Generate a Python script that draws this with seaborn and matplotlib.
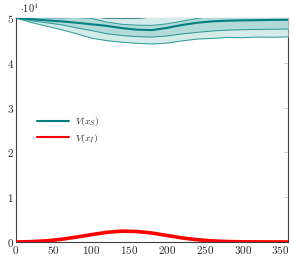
import numpy as np
import pandas as pd
import matplotlib
matplotlib.use("Agg")
import matplotlib.pyplot as plt
import seaborn as sns

# values are in units of 10^4
x = [0, 20, 40, 60, 80, 100, 120, 140, 160, 180, 200, 220, 240, 260, 280, 300, 320, 340, 360]

vs_mean = [5.00, 4.975, 4.948, 4.925, 4.895, 4.86, 4.825, 4.775, 4.74, 4.73, 4.78, 4.845, 4.895, 4.925,
           4.94, 4.947, 4.952, 4.957, 4.96]
vs_inner_lo = [5.00, 4.94, 4.895, 4.85, 4.78, 4.72, 4.65, 4.61, 4.585, 4.575, 4.60, 4.645, 4.68, 4.71,
               4.73, 4.74, 4.745, 4.75, 4.755]
vs_inner_hi = [5.00, 5.01, 5.00, 5.00, 5.01, 4.99, 4.91, 4.86, 4.84, 4.835, 4.87, 4.93, 4.99, 5.04,
               5.08, 5.12, 5.14, 5.15, 5.16]
vs_outer_lo = [5.00, 4.90, 4.82, 4.74, 4.65, 4.55, 4.495, 4.46, 4.435, 4.42, 4.44, 4.49, 4.53, 4.545,
               4.565, 4.56, 4.575, 4.57, 4.58]
vs_outer_hi = [5.00, 5.05, 5.08, 5.10, 5.08, 5.03, 4.997, 4.995, 4.996, 5.02, 5.08, 5.14, 5.20, 5.25,
               5.28, 5.30, 5.32, 5.33, 5.34]

vi_mean = [0.0, 0.008, 0.025, 0.06, 0.11, 0.165, 0.215, 0.243, 0.235, 0.20, 0.145, 0.09, 0.05, 0.024,
           0.01, 0.004, 0.002, 0.001, 0.0]

teal = "#008080"
df = pd.DataFrame({"x": x, "V(x_S)": vs_mean, "V(x_I)": vi_mean})

sns.set_theme(style="white")
plt.rcParams["font.family"] = ["cmr10", "DejaVu Serif"]
plt.rcParams["mathtext.fontset"] = "cm"
plt.rcParams["axes.formatter.use_mathtext"] = True

fig = plt.figure(figsize=(2.94, 2.61), dpi=100)
ax = fig.add_axes([0.0544, 0.0728, 0.9252, 0.8582])

# bands drawn over the axis box like in pgfplots
ax.fill_between(x, vs_outer_lo, vs_outer_hi, color="#d4ebea", lw=0, zorder=3)
ax.fill_between(x, vs_inner_lo, vs_inner_hi, color="#b2dad8", lw=0, zorder=3.1)
for b in [vs_outer_lo, vs_outer_hi, vs_inner_lo, vs_inner_hi]:
    ax.plot(x, b, color="#2a9a96", lw=0.7, zorder=3.2)

sns.lineplot(data=df, x="x", y="V(x_S)", color=teal, lw=1.5, ax=ax, zorder=4, label=r"$V(x_S)$")
sns.lineplot(data=df, x="x", y="V(x_I)", color="#ff0000", lw=2.6, ax=ax, zorder=4, label=r"$V(x_I)$")

ax.set_xlim(0, 360)
ax.set_ylim(0, 5)
ax.set_xticks([0, 50, 100, 150, 200, 250, 300, 350])
ax.set_yticks([0, 1, 2, 3, 4, 5])
ax.set_xlabel("")
ax.set_ylabel("")
ax.tick_params(direction="in", length=3, width=0.6, color="#c0c0c0", labelsize=8,
               top=True, right=True, pad=1.5)
for s in ax.spines.values():
    s.set_color("#404040")
    s.set_linewidth(0.8)

ax.text(0.015, 1.012, r"$\cdot 10^4$", transform=ax.transAxes, fontsize=7.5, ha="left", va="bottom")

leg = ax.legend(loc="center left", bbox_to_anchor=(0.045, 0.5), frameon=False, fontsize=7,
                handlelength=3.3, handletextpad=0.6, labelspacing=0.35)
for line in leg.get_lines():
    line.set_linewidth(1.5)

fig.savefig("out.png", dpi=100)
